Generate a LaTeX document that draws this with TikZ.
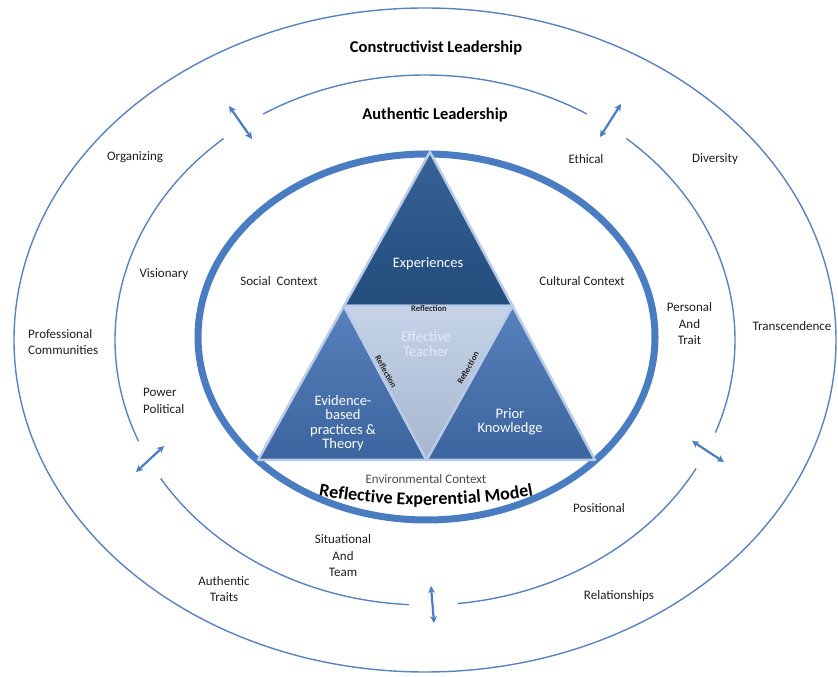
\documentclass[tikz,border=0pt]{standalone}
\usepackage{fontspec}
\setmainfont{Carlito}
\usetikzlibrary{arrows.meta,decorations.text}
\definecolor{ringblue}{HTML}{4A7CC2}
\definecolor{thinblue}{HTML}{5A82BE}
\definecolor{labelgray}{HTML}{1E1E1E}
\definecolor{envgray}{HTML}{4A4A4A}
\definecolor{edgetri}{HTML}{B8CBE8}
\tikzset{
  ring/.style={thinblue, line width=1.4pt},
  linkarrow/.style={<->, >={Stealth[length=7pt,width=7pt]}, ringblue, line width=2.2pt},
  ringtext/.style={text=labelgray, font=\fontsize{13}{16.5}\selectfont, align=center, inner sep=0pt},
  heading/.style={text=black, font=\bfseries\fontsize{16.5}{18}\selectfont, inner sep=0pt},
  tritext/.style={text=white, font=\fontsize{14.5}{14.5}\selectfont, align=center, inner sep=0pt},
  reflect/.style={text=black!85, font=\bfseries\fontsize{8.5}{9}\selectfont, inner sep=0pt},
  tri/.style={draw=edgetri, line width=2.5pt, line join=round}
}
\begin{document}
\begin{tikzpicture}[x=1pt, y=1pt]
    \useasboundingbox (0,0) rectangle (838,677);

    \draw[ring] (425,337) ellipse[x radius=411pt, y radius=332pt];
    \foreach \from/\to in {58.5/121.5, 130.5/202.5, 211.5/267, 276/331, 339.5/409.5} {
        \draw[ring] (425,337) ++(\from:310pt and 265pt)
            arc[start angle=\from, end angle=\to, x radius=310pt, y radius=265pt];
    }
    \draw[ringblue, line width=7pt] (426.5,340) ellipse[x radius=228.5pt, y radius=183pt];

    \coordinate (apex) at (430,525);
    \coordinate (baseL) at (258,217);
    \coordinate (baseR) at (595,217);
    \coordinate (midL) at (344,371);
    \coordinate (midR) at (512.5,371);
    \coordinate (midB) at (426.5,217);

    \shadedraw[tri, top color={rgb,255:red,54;green,98;blue,152}, bottom color={rgb,255:red,36;green,76;blue,124}]
        (apex) -- (midL) -- (midR) -- cycle;
    \shadedraw[tri, top color={rgb,255:red,88;green,128;blue,188}, bottom color={rgb,255:red,60;green,100;blue,158}]
        (midL) -- (baseL) -- (midB) -- cycle;
    \shadedraw[tri, top color={rgb,255:red,88;green,128;blue,188}, bottom color={rgb,255:red,60;green,100;blue,158}]
        (midR) -- (midB) -- (baseR) -- cycle;
    \shadedraw[tri, top color={rgb,255:red,198;green,211;blue,232}, bottom color={rgb,255:red,166;green,182;blue,206}]
        (midL) -- (midR) -- (midB) -- cycle;

    \node[heading] (constructivist) at (436,629) {Constructivist Leadership};
    \node[heading] (authentic) at (435,562) {Authentic Leadership};

    \node[ringtext] (organizing) at (135,520) {Organizing};
    \node[ringtext] (ethical) at (586,518) {Ethical};
    \node[ringtext] (diversity) at (715,518) {Diversity};
    \node[ringtext] (visionary) at (164,403) {Visionary};
    \node[ringtext] (social) at (279,396) {Social\ \ Context};
    \node[ringtext] (cultural) at (582,396) {Cultural Context};
    \node[ringtext] (personal) at (689.5,353) {Personal\\And\\Trait};
    \node[ringtext] (transcendence) at (792,351) {Transcendence};
    \node[ringtext, anchor=west, align=left] (professional) at (28,335) {Professional\\Communities};
    \node[ringtext, anchor=west, align=left] (power) at (143,276) {Power\\Political};
    \node[ringtext] (situational) at (343,121) {Situational\\And\\Team};
    \node[ringtext] (traits) at (224,88) {Authentic\\Traits};
    \node[ringtext] (positional) at (599,169) {Positional};
    \node[ringtext] (relationships) at (619,81) {Relationships};

    \node[tritext] (experiences) at (428,413) {Experiences};
    \node[tritext, text={rgb,255:red,228;green,234;blue,243}, font=\fontsize{14.5}{15}\selectfont] (effective) at (426,333) {Effective\\Teacher};
    \node[tritext] (evidence) at (343,254) {Evidence-\\based\\practices \&\\Theory};
    \node[tritext] (prior) at (510,255) {Prior\\Knowledge};

    \node[reflect] (reflecttop) at (429,368) {Reflection};
    \node[reflect, rotate=-61] (reflectleft) at (386,305) {Reflection};
    \node[reflect, rotate=61] (reflectright) at (468,309) {Reflection};

    \node[ringtext, text=envgray] (environmental) at (426,198) {Environmental Context};
    \path[decorate, decoration={text along path, text align=center,
        text={|\bfseries\fontsize{18}{20}\selectfont|Reflective Experential Model}}]
        (426,772) ++(255:600pt) arc[start angle=255, end angle=285, radius=600pt];

    \coordinate (tlA) at (229,571);
    \coordinate (tlB) at (252,538);
    \coordinate (trA) at (621,573);
    \coordinate (trB) at (600,540);
    \coordinate (blA) at (136,205);
    \coordinate (blB) at (164,231);
    \coordinate (brA) at (692,236);
    \coordinate (brB) at (724,215);
    \coordinate (btA) at (431,91);
    \coordinate (btB) at (434,54);
    \draw[linkarrow] (tlA) -- (tlB);
    \draw[linkarrow] (trA) -- (trB);
    \draw[linkarrow] (blA) -- (blB);
    \draw[linkarrow] (brA) -- (brB);
    \draw[linkarrow] (btA) -- (btB);
\end{tikzpicture}
\end{document}
